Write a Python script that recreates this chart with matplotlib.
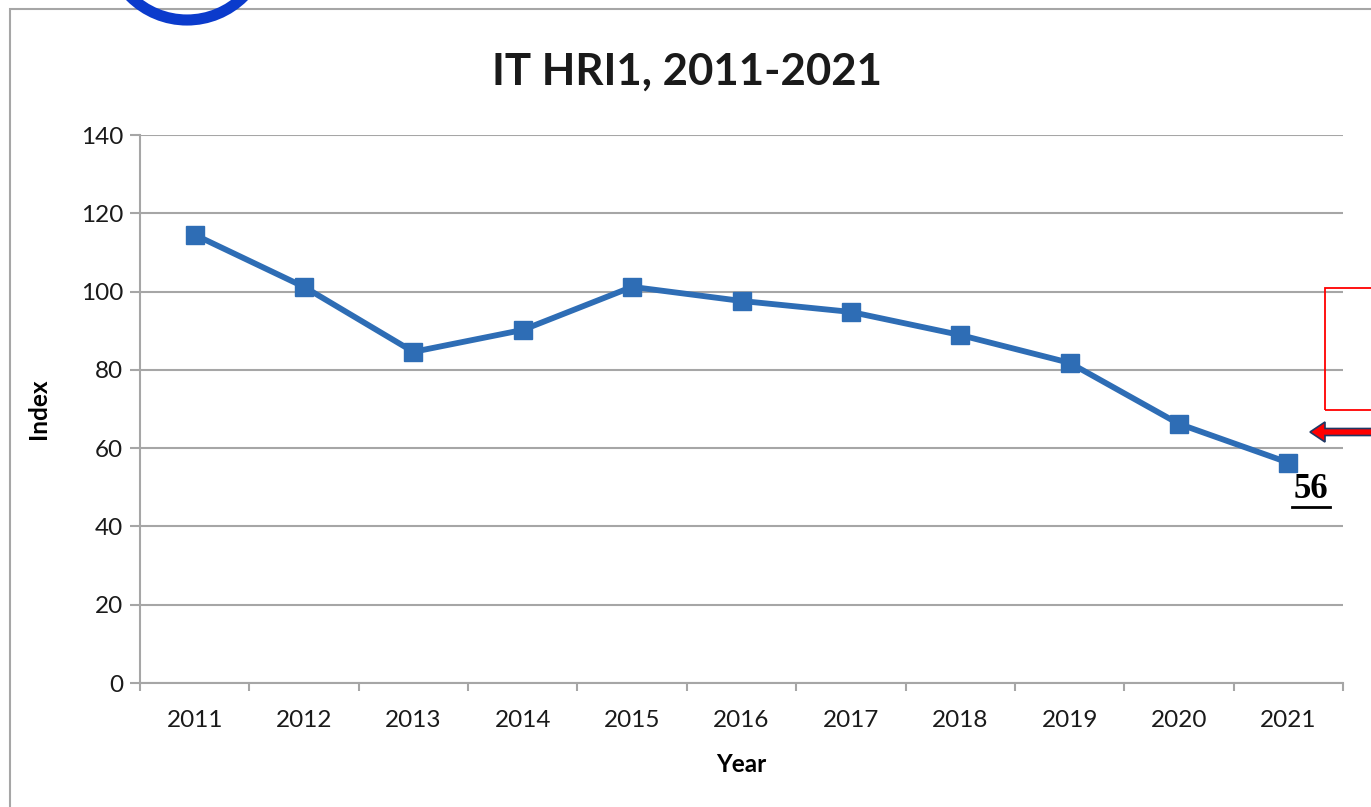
import matplotlib
matplotlib.use("Agg")
import matplotlib.pyplot as plt
from matplotlib.patches import Rectangle, Circle, FancyArrow

plt.rcParams["font.family"] = ["Lato", "DejaVu Sans"]

# data
years = ["2011", "2012", "2013", "2014", "2015", "2016",
         "2017", "2018", "2019", "2020", "2021"]
index_values = [114.5, 101.2, 84.6, 90.2, 101.2, 97.6,
                94.8, 88.9, 81.8, 66.2, 56.3]
last_label = "56"
title = "IT HRI1, 2011-2021"

W, H = 1371, 807
fig = plt.figure(figsize=(W / 100, H / 100), dpi=100)
fig.patch.set_facecolor("white")


def px(x, y):
    """pixel (top-left origin) -> inches for dpi_scale_trans"""
    return x / 100, (H - y) / 100


# outer chart frame
fx, fy = px(10, 900)
fig.patches.append(Rectangle((fx, fy), 20, (900 - 9) / 100, fill=False,
                             edgecolor="#a6a6a6", lw=1.5,
                             transform=fig.dpi_scale_trans))

ax = fig.add_axes([140 / W, 1 - 683 / H, 1203 / W, 548 / H])
x = list(range(len(years)))
ax.plot(x, index_values, color="#2e6db5", lw=4.2, marker="s",
        markersize=13, markerfacecolor="#2e6db5", markeredgecolor="#2e6db5",
        zorder=3)

ax.set_xlim(-0.5, len(years) - 0.5)
ax.set_ylim(0, 140)
ax.set_yticks(range(0, 141, 20))
ax.grid(axis="y", color="#a6a6a6", lw=1.5)
ax.set_axisbelow(True)
for s in ("top", "right"):
    ax.spines[s].set_visible(False)
for s in ("left", "bottom"):
    ax.spines[s].set_color("#a6a6a6")
    ax.spines[s].set_linewidth(1.5)

ax.set_xticks(x)
ax.set_xticklabels(years)
ax.set_xticks([i - 0.5 for i in range(len(years) + 1)], minor=True)
ax.tick_params(axis="x", which="major", length=0, pad=19.5, labelsize=17.5,
               labelcolor="#1a1a1a")
ax.tick_params(axis="x", which="minor", length=6, width=1.5, color="#a6a6a6")
ax.tick_params(axis="y", length=7, width=1.5, color="#a6a6a6", pad=5,
               labelsize=17.5, labelcolor="#1a1a1a")

ax.set_ylabel("Index", fontsize=17.5, fontweight="bold")
ax.yaxis.set_label_coords(-0.075, 0.5)
ax.set_xlabel("Year", fontsize=17.5, fontweight="bold")
ax.xaxis.set_label_coords(0.5, -0.128)

fig.text(687 / W, 1 - 72 / H, title, ha="center", va="center",
         fontsize=31.5, fontweight="bold", color="#1a1a1a")

# value label for the last point
ax.annotate(last_label, (x[-1], index_values[-1]), xytext=(16, -19),
            textcoords="offset points", ha="center", va="center",
            fontsize=25, fontweight="bold", family="Liberation Serif",
            color="black")
lx0, ly0 = px(1292, 507)
fig.lines.append(plt.Line2D([lx0, lx0 + 0.38], [ly0, ly0], color="black",
                            lw=2.0, transform=fig.dpi_scale_trans))

# red callout box and arrow on the right
bx, by = px(1325, 410)
fig.patches.append(Rectangle((bx, by), 1.0, 1.22, fill=False,
                             edgecolor="#ff0000", lw=1.3,
                             transform=fig.dpi_scale_trans))
ax0, ay0 = px(1380, 432)
fig.patches.append(FancyArrow(ax0, ay0, -0.7, 0, width=0.07,
                              head_width=0.2, head_length=0.15,
                              length_includes_head=True,
                              facecolor="#ff0000", edgecolor="#1f3864",
                              lw=1.2, transform=fig.dpi_scale_trans))

# blue ring partly off the top edge
cx, cy = px(187, -60)
fig.patches.append(Circle((cx, cy), 0.8, fill=False, edgecolor="#0b3bcc",
                          lw=8, transform=fig.dpi_scale_trans))

fig.savefig("out.png", dpi=100)
